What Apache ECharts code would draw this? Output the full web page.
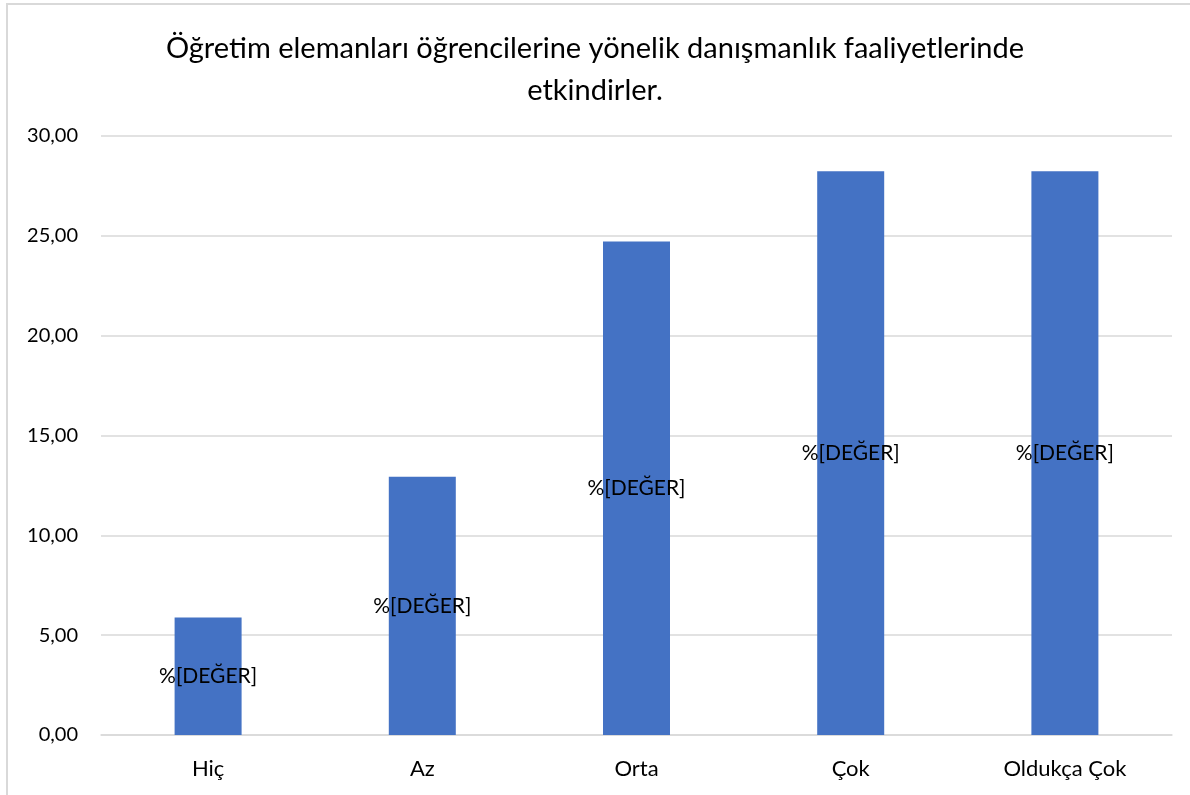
<!DOCTYPE html>
<html>
<head>
<meta charset="utf-8">
<script src="https://cdn.jsdelivr.net/npm/echarts@6/dist/echarts.min.js"></script>
<style>
html, body { margin: 0; padding: 0; background: #fff; }
#chart { width: 1190px; height: 795px; }
</style>
</head>
<body>
<div id="chart"></div>
<script>
var categories = ['Hiç', 'Az', 'Orta', 'Çok', 'Oldukça Çok'];
var values = [5.88, 12.94, 24.71, 28.24, 28.24];
var titleText = 'Öğretim elemanları öğrencilerine yönelik danışmanlık faaliyetlerinde\netkindirler.';
var barLabel = '%[DEĞER]';

var fontName = 'Lato, "Open Sans", sans-serif';
var chart = echarts.init(document.getElementById('chart'));

var option = {
	animation: false,
	title: {
		text: titleText,
		left: 'center',
		top: 23,
		textStyle: {
			fontFamily: fontName,
			fontSize: 29,
			fontWeight: 'normal',
			color: '#000',
			lineHeight: 42
		}
	},
	graphic: [{
		type: 'polyline',
		shape: { points: [[7, 795], [7, 4], [1190, 4]] },
		style: { stroke: '#d9d9d9', lineWidth: 2, fill: null }
	}],
	grid: { left: 101, right: 18, top: 136, bottom: 60 },
	xAxis: {
		type: 'category',
		data: categories,
		axisTick: { show: false },
		axisLine: { lineStyle: { color: '#d9d9d9', width: 1.5 } },
		axisLabel: {
			margin: 23,
			fontFamily: fontName,
			fontSize: 22,
			color: '#000'
		}
	},
	yAxis: {
		type: 'value',
		min: 0,
		max: 30,
		interval: 5,
		axisLine: { show: false },
		axisTick: { show: false },
		splitLine: { lineStyle: { color: '#d9d9d9', width: 1.5 } },
		axisLabel: {
			margin: 23,
			fontFamily: fontName,
			fontSize: 20,
			color: '#000',
			formatter: function (v) { return v.toFixed(2).replace('.', ','); }
		}
	},
	series: [{
		type: 'bar',
		data: values,
		barWidth: 67,
		itemStyle: { color: '#4472c4' },
		label: {
			show: true,
			position: 'inside',
			formatter: barLabel,
			fontFamily: fontName,
			fontSize: 21,
			color: '#000'
		}
	}]
};
chart.setOption(option);
</script>
</body>
</html>
